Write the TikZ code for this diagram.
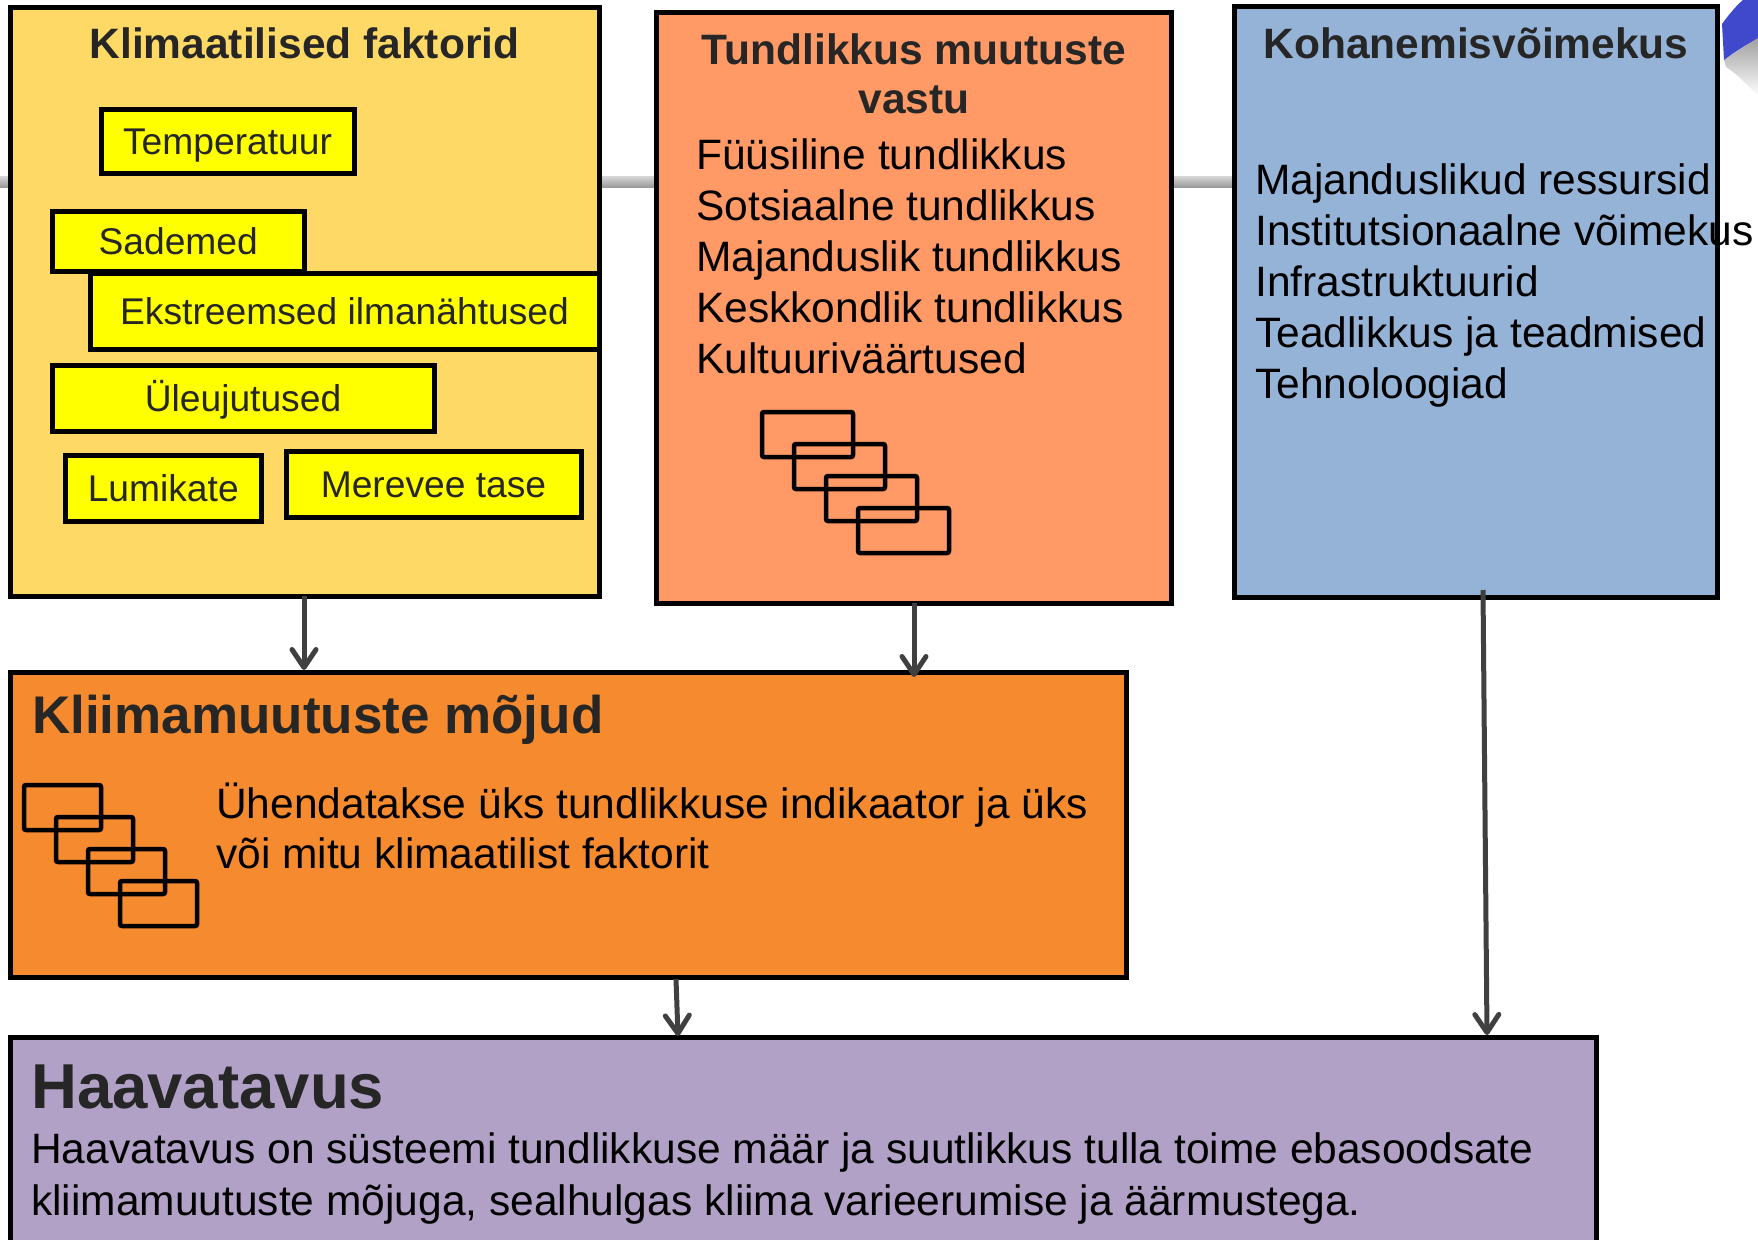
\documentclass[tikz,border=0pt]{standalone}
\usepackage{fontspec}
\setmainfont{Liberation Sans}
\usetikzlibrary{arrows.meta}
\definecolor{cfak}{HTML}{FFD966}
\definecolor{ctun}{HTML}{FF9966}
\definecolor{ckoh}{HTML}{95B3D7}
\definecolor{cmoj}{HTML}{F58A2F}
\definecolor{chaa}{HTML}{B2A1C7}
\definecolor{cyel}{HTML}{FFFF00}
\definecolor{titlec}{HTML}{262626}
\definecolor{arrc}{HTML}{404040}
\definecolor{swblue}{HTML}{4048CC}
\definecolor{linetop}{HTML}{D8D8D8}
\definecolor{linebot}{HTML}{9A9A9A}
\begin{document}
\begin{tikzpicture}[x=1pt,y=-1pt,
  bigbox/.style={draw=black, line width=5pt, inner sep=0pt, outer sep=0pt},
  ybox/.style={draw=black, line width=5pt, fill=cyel, inner sep=0pt, outer sep=0pt,
    text height=26pt, text depth=0pt, text=titlec, font=\fontsize{37.2}{44}\selectfont},
  ttl/.style={inner sep=0pt, text=titlec, font=\fontsize{42.5}{51}\selectfont\bfseries},
  lst/.style={inner sep=0pt, text=black, font=\fontsize{42.5}{51}\selectfont, anchor=base west},
  minirect/.style={draw=black, line width=4.5pt, rounded corners=2pt},
  arr/.style={draw=arrc, line width=5pt, -{Straight Barb[length=18pt,width=24pt,round]}}]
\useasboundingbox (0,0) rectangle (1758,1239);
\clip (0,0) rectangle (1758,1239);

% grey line behind the top boxes
\shade[top color=linetop, bottom color=linebot] (0,176) rectangle (1234,187);

% blue swoosh at top right
\shade[top color=gray!75, bottom color=white]
  (1724,60) .. controls (1736,52) and (1748,44) .. (1758,38) -- (1758,96)
  .. controls (1746,84) and (1735,72) .. (1726,67) -- cycle;
\fill[swblue] (1722,24) .. controls (1730,13) and (1737,5) .. (1743,0) -- (1758,0) -- (1758,38)
  .. controls (1746,45) and (1733,53) .. (1724,60) -- cycle;

% main boxes
\node[bigbox, fill=cfak, minimum width=589pt, minimum height=588.5pt] (b1) at (304.5,301.75) {};
\node[bigbox, fill=ctun, minimum width=515pt, minimum height=590.5pt] (b2) at (913.5,307.75) {};
\node[bigbox, fill=ckoh, minimum width=483pt, minimum height=590pt] (b3) at (1475.5,302) {};
\node[bigbox, fill=cmoj, minimum width=1116pt, minimum height=305pt] (b4) at (568,824.5) {};
\node[bigbox, fill=chaa, minimum width=1586pt, minimum height=263pt] (b5) at (803,1168.5) {};

% Klimaatilised faktorid
\node[ttl, anchor=base] (t1) at (304.5,59) {Klimaatilised faktorid};
\node[ybox, minimum width=253pt, minimum height=64pt] (y1) at (227.5,141) {Temperatuur};
\node[ybox, minimum width=252.5pt, minimum height=60pt] (y2) at (178.25,241) {Sademed};
\node[ybox, minimum width=509pt, minimum height=76.5pt] (y3) at (344.5,311.25) {Ekstreemsed ilmanähtused};
\node[ybox, minimum width=382pt, minimum height=66pt] (y4) at (243,398) {Üleujutused};
\node[ybox, minimum width=196.5pt, minimum height=66pt] (y5) at (163.25,488) {Lumikate};
\node[ybox, minimum width=295pt, minimum height=66pt] (y6) at (433.5,484) {Merevee tase};

% Tundlikkus muutuste vastu
\node[ttl, anchor=base] (t2a) at (914,64) {Tundlikkus muutuste};
\node[ttl, anchor=base] (t2b) at (914,113) {vastu};
\foreach \t [count=\i from 0] in {Füüsiline tundlikkus, Sotsiaalne tundlikkus, Majanduslik tundlikkus, Keskkondlik tundlikkus, Kultuuriväärtused}
  \node[lst] (l2\i) at (696,169+51*\i) {\t};
\foreach \k in {0,1,2,3}
  \draw[minirect] (762+32*\k,412+32*\k) rectangle ++(91,45);

% Kohanemisvõimekus
\node[ttl, anchor=base] (t3) at (1476,59) {Kohanemisvõimekus};
\foreach \t [count=\i from 0] in {Majanduslikud ressursid, Institutsionaalne võimekus, Infrastruktuurid, Teadlikkus ja teadmised, Tehnoloogiad}
  \node[lst] (l3\i) at (1255,194+51*\i) {\t};
\draw[line width=5pt] (b3.north east) -- (b3.south east);

% Kliimamuutuste mõjud
\node[ttl, anchor=base west, font=\fontsize{53}{60}\selectfont\bfseries] (t4) at (32,733) {Kliimamuutuste mõjud};
\node[lst] (l40) at (216,818) {Ühendatakse üks tundlikkuse indikaator ja üks};
\node[lst] (l41) at (216,868) {või mitu klimaatilist faktorit};
\foreach \k in {0,1,2,3}
  \draw[minirect] (24+32*\k,785+32*\k) rectangle ++(77,45);

% Haavatavus
\node[ttl, anchor=base west, font=\fontsize{63.5}{70}\selectfont\bfseries] (t5) at (31,1108) {Haavatavus};
\node[lst] (l50) at (31,1163) {Haavatavus on süsteemi tundlikkuse määr ja suutlikkus tulla toime ebasoodsate};
\node[lst] (l51) at (31,1215) {kliimamuutuste mõjuga, sealhulgas kliima varieerumise ja äärmustega.};

% connectors
\coordinate (a1t) at (304,670);
\coordinate (a2t) at (914,677);
\coordinate (a3s) at (676,979);
\coordinate (a3t) at (678,1036);
\coordinate (a4s) at (1483,590);
\coordinate (a4t) at (1487,1035);
\draw[arr] (b1.south -| a1t) -- (a1t);
\draw[arr] (b2.south -| a2t) -- (a2t);
\draw[arr] (a3s) -- (a3t);
\draw[arr] (a4s) -- (a4t);
\end{tikzpicture}
\end{document}
